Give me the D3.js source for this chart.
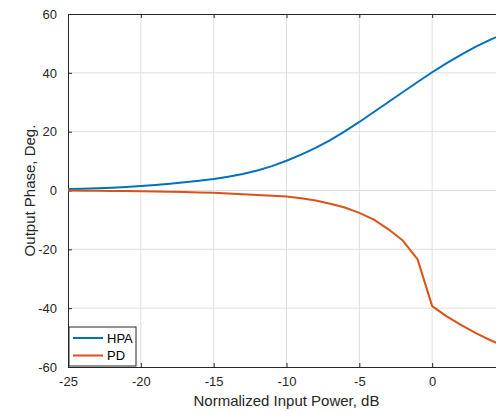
<!DOCTYPE html>
<html>
<head>
<meta charset="utf-8">
<script src="https://cdn.jsdelivr.net/npm/d3@7"></script>
<style>
    body { margin: 0; background: #fff; }
    svg { display: block; font-family: "Liberation Sans", Arial, sans-serif; }
    .grid line { stroke: #dfdfdf; stroke-width: 1; }
    .axis text { fill: #262626; font-size: 13px; }
</style>
</head>
<body>
<div id="chart"></div>
<script>
// input power, dB
const power = [-25, -24, -23, -22, -21, -20, -19, -18, -17, -16, -15, -14, -13, -12, -11,
    -10, -9, -8, -7, -6, -5, -4, -3, -2, -1, 0, 1, 2, 3, 4, 5];
// output phase, deg
const hpaPhase = [0.5, 0.6, 0.75, 0.95, 1.2, 1.5, 1.9, 2.3, 2.8, 3.3, 3.9, 4.7, 5.6, 6.8, 8.3,
    10.1, 12.2, 14.5, 17.1, 20.1, 23.3, 26.7, 30.1, 33.5, 36.9, 40.2, 43.3, 46.2, 48.9, 51.3, 53.4];
const pdPhase = [0, -0.05, -0.1, -0.15, -0.2, -0.25, -0.3, -0.4, -0.5, -0.65, -0.8, -1.0, -1.25, -1.5, -1.75,
    -2.0, -2.6, -3.4, -4.5, -5.8, -7.6, -9.9, -13.2, -17.1, -23.4, -39.3, -42.8, -45.8, -48.5, -50.9, -53.1];
const xTicks = [-25, -20, -15, -10, -5, 0];
const yTicks = [-60, -40, -20, 0, 20, 40, 60];
const seriesNames = ["HPA", "PD"];
const colors = ["#0072BD", "#D95319"];

const width = 496, height = 411;
const margin = { top: 14, left: 68, bottom: 44 },
    plotW = 437, plotH = height - margin.top - margin.bottom;

const svg = d3.select("#chart").append("svg")
    .attr("width", width).attr("height", height);

const x = d3.scaleLinear().domain([-25, 5]).range([0, plotW]),
    y = d3.scaleLinear().domain([-60, 60]).range([plotH, 0]);

const g = svg.append("g")
    .attr("transform", "translate(" + margin.left + "," + margin.top + ")");

// grid
g.append("g").attr("class", "grid")
    .selectAll("line").data(xTicks.slice(1)).enter().append("line")
    .attr("x1", d => x(d)).attr("x2", d => x(d))
    .attr("y1", 0).attr("y2", plotH);
g.append("g").attr("class", "grid")
    .selectAll("line").data(yTicks.slice(1, -1)).enter().append("line")
    .attr("x1", 0).attr("x2", plotW)
    .attr("y1", d => y(d)).attr("y2", d => y(d));

// axes, ticks inside like matlab, plain hyphen for minus
const fmt = d => String(d);
const styleAxis = sel => {
    sel.select(".domain").attr("stroke", "#262626");
    sel.selectAll(".tick line").attr("stroke", "#262626");
};
g.append("g").attr("class", "axis")
    .attr("transform", "translate(0," + plotH + ")")
    .call(d3.axisBottom(x).tickValues(xTicks).tickFormat(fmt).tickSizeInner(-4).tickSizeOuter(0).tickPadding(10))
    .call(styleAxis);
g.append("g").attr("class", "axis")
    .call(d3.axisTop(x).tickValues(xTicks).tickSizeInner(-4).tickSizeOuter(0).tickFormat(""))
    .call(styleAxis);
g.append("g").attr("class", "axis")
    .call(d3.axisLeft(y).tickValues(yTicks).tickFormat(fmt).tickSizeInner(-4).tickSizeOuter(0).tickPadding(11))
    .call(styleAxis);

// curves
const line = d3.line().x(d => x(d[0])).y(d => y(d[1]));
[hpaPhase, pdPhase].forEach((vals, i) => {
    g.append("path")
        .datum(power.map((p, j) => [p, vals[j]]))
        .attr("fill", "none")
        .attr("stroke", colors[i])
        .attr("stroke-width", 2)
        .attr("stroke-linejoin", "round")
        .attr("d", line);
});

// labels
svg.append("text")
    .attr("x", margin.left + plotW / 2).attr("y", 406)
    .attr("text-anchor", "middle").attr("fill", "#262626").attr("font-size", 15)
    .text("Normalized Input Power, dB");
svg.append("text")
    .attr("transform", "translate(35," + (margin.top + plotH / 2) + ") rotate(-90)")
    .attr("text-anchor", "middle").attr("fill", "#262626").attr("font-size", 15)
    .text("Output Phase, Deg.");

// legend
const lg = g.append("g").attr("transform", "translate(1," + (plotH - 40) + ")");
lg.append("rect").attr("width", 67).attr("height", 39)
    .attr("fill", "#fff").attr("stroke", "#262626").attr("stroke-width", 1);
seriesNames.forEach((name, i) => {
    const ly = 11 + i * 17.5;
    lg.append("line").attr("x1", 4).attr("x2", 34).attr("y1", ly).attr("y2", ly)
        .attr("stroke", colors[i]).attr("stroke-width", 2);
    lg.append("text").attr("x", 38).attr("y", ly + 4.5)
        .attr("fill", "#000").attr("font-size", 13).text(name);
});
</script>
</body>
</html>
